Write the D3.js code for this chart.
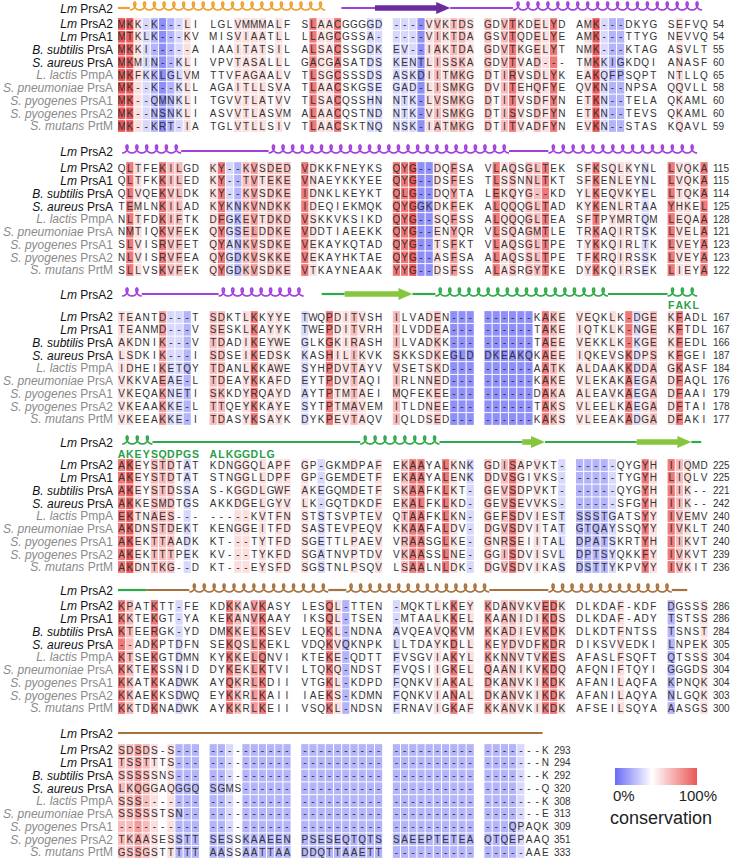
<!DOCTYPE html>
<html><head><meta charset="utf-8">
<script src="https://cdn.jsdelivr.net/npm/d3@7"></script>
<style>body{margin:0;background:#fff}svg{display:block}</style>
</head><body><svg id="chart" width="733" height="859"></svg>
<script>
// ---------------- DATA ----------------
const speciesItalic = ["Lm","Lm","B. subtilis","S. aureus","L. lactis","S. pneumoniae","S. pyogenes","S. pyogenes","S. mutans"];
const proteinNames  = ["PrsA2","PrsA1","PrsA","PrsA","PmpA","PrsA","PrsA1","PrsA2","PrtM"];
const ssLabelItalic = "Lm", ssLabelName = "PrsA2";

const block1 = [
"MKK-K---LI LGLVMMMALF SLAACGGGGD ----VVKTDS GDVTKDELYD AMK---DKYG SEFVQ",
"MTKLK---KV MISVIAATLL LLAGCGSSA- ----VIKTDA GSVTQDELYE AMK---TTYG NEVVQ",
"MKKI-----A IAAITATSIL ALSACSSGDK EV--IAKTDA GDVTKGELYT NMK---KTAG ASVLT",
"MKMIN--KLI VPVTASALLL GACGASATDS KENTLISSKA GDVTVAD--- TMKKIGKDQI ANASF",
"MKFKKLGLVM TTVFAGAALV TLSGCSSSDS ASKDIITMKG DTIRVSDLYK EAKQFPSQPT NTLLQ",
"MK--K--KLL AGAITLLSVA TLAACSKGSE GAD-LISMKG DVITEHQFYE QVKN--NPSA QQVLL",
"MK--QMNKLI TGVVTLATVV TLSACQSSHN NTK-LVSMKG DTITVSDFYN ETKN--TELA QKAML",
"MK--NSNKLI ASVVTLASVM ALAACQSTND NTK-VISMKG DTISVSDFYN ETKN--TEVS QKAML",
"MK--KRT-IA TGLVTLLSIV TLAACSKTNQ NSK-IATMKG DTITVADFYN EVKN--STAS KQAVL"];
const block2 = [
"QLTFEKILGD KY--KVSDED VDKKFNEYKS QYG--DQFSA VLAQSGLTEK SFKSQLKYNL LVQKA",
"QLTFKKILED KY--TVTEKE VNAEYKKYEE QYG--DSFES TLSSNNLTKT SFKENLEYNL LVQKA",
"QLVQEKVLDK KY--KVSDKE IDNKLKEYKT QLG--DQYTA LEKQYG--KD YLKEQVKYEL LTQKA",
"TEMLNKILAD KYKNKVNDKK IDEQIEKMQK QYGGKDKFEK ALQQQGLTAD KYKENLRTAA YHKEL",
"NLTFDKIFTK DFGKEVTDKD VSKKVKSIKD QYG--SQFSS ALQQQGLTEA SFTPYMRTQM LEQAA",
"NMTIQKVFEK QYGSELDDKE VDDTIAEEKK QYG--ENYQR VLSQAGMTLE TRKAQIRTSK LVELA",
"SLVISRVFET QYANKVSDKE VEKAYKQTAD QYG--TSFKT VLAQSGLTPE TYKKQIRLTK LVEYA",
"NLVISRVFEA QYGDKVSKKE VEKAYHKTAE QYG--ASFSA ALAQSSLTPE TFKRQIRSSK LVEYA",
"SLLVSKVFEK QYGDKVSDKE VTKAYNEAAK YYG--DSFSS ALASRGYTKE DYKKQIRSEK LIEYA"];
const block3 = [
"TEANTD---T SDKTLKKYYE TWQPDITVSH ILVADEN--- ------KAKE VEQKLK-DGE KFADL",
"TEANMD---V SESKLKAYYK TWEPDITVRH ILVDDEA--- ------TAKE IQTKLK-NGE KFTDL",
"AKDNIK---V TDADIKEYWE GLKGKIRASH ILVADKK--- ------TAEE VEKKLK-KGE KFEDL",
"LSDKIK---I SDSEIKEDSK KASHILIKVK SKKSDKEGLD DKEAKQKAEE IQKEVSKDPS KFGEI",
"IDHEIKETQY TDANLKKAWE SYHPDVTAYV VSETSKD--- ------AATK ALDAAKKDDA GKASF",
"VKKVAEAE-L TDEAYKKAFD EYTPDVTAQI IRLNNED--- ------KAKE VLEKAKAEGA DFAQL",
"VKEQAKNETI SKKDYRQAYD AYTPTMTAEI MQFEKEE--- ------DAKA ALEAVKAEGA DFAAI",
"VKEAAKKE-L TTQEYKKAYE SYTPTMAVEM ITLDNEE--- ------TAKS VLEELKAEGA DFTAI",
"VKEEAKKE-I TDASYKSAYK DYKPEVTAQV IQLDSED--- ------KAKS VLEEAKADGA DFAKI"];
const block4 = [
"AKEYSTDTAT KDNGGQLAPF GP-GKMDPAF EKAAYALKNK GDISAPVKT- -----QYGYH IIQMD",
"AKEYSTDTAT STNGGLLDPF GP-GEMDETF EKAAYALENK DDVSGIVKS- -----TYGYH LIQLV",
"AKEYSTDSSA S-KGGDLGWF AKEGQMDETF SKAAFKLKT- GEVSDPVKT- -----QYGYH IIK--",
"AKKESMDTGS AKKDGELGYV LK-GQTDKDF EKALFKLKD- GEVSEVVKS- -----SFGYH IIK--",
"EKTNAES--- -----KVTFN STSTSVPTEV QTAAFKLKN- GEFSDVIEST SSSTGATSYY IVEMV",
"AKDNSTDEKT KENGGEITFD SASTEVPEQV KKAAFALDV- DGVSDVITAT GTQAYSSQYY IVKLT",
"AKEKTTAADK KT---TYTFD SGETTLPAEV VRAASGLKE- GNRSEIITAL DPATSKRTYH IIKVT",
"AKEKTTTPEK KV---TYKFD SGATNVPTDV VKAASSLNE- GGISDVISVL DPTSYQKKFY IVKVT",
"AKDNTKG--D KT---EYSFD SGSTNLPSQV LSAALNLDK- DGVSDVIKAS DSTTYKPVYY IVKIT"];
const block5 = [
"KPATKTT-FE KDKKAVKASY LESQL-TTEN -MQKTLKKEY KDANVKVEDK DLKDAF-KDF DGSSS",
"KKTEKGT-YA KEKANVKAAY IKSQL-TSEN -MTAALKKEL KAANIDIKDS DLKDAF-ADY TSTSS",
"KTEERGK-YD DMKKELKSEV LEQKL-NDNA AVQEAVQKVM KKADIEVKDK DLKDTFNTSS TSNST",
"--ADKPTDFN SEKQSLKEKL VDQKVQKNPK LLTDAYKDLL KEYDVDFKDR DIKSVVEDKI LNPEK",
"KTSEKGTDMN KYKKELQNVI KTEKE-QDTT FVSGVIAKYL KKNNVTVKES AFASLFSQFT QTSSS",
"KKTEKSSNID DYKEKLKTVI LTQKQ-NDST FVQSIIGKEL QAANIKVKDQ AFQNIFTQYI GGGDS",
"KKATKKADWK AYQKRLKDII VTGKL-KDPD FQNKVIAKAL DKANVKIKDK AFANILAQFA KPNQK",
"KKAEKKSDWQ EYKKRLKAII IAEKS-KDMN FQNKVIANAL DKANVKIKDK AFANILAQYA NLGQK",
"KKTDKNADWK AYKKRLKEII VSQKL-NDSN FRNAVIGKAF KKANVKIKDK AFSEILSQYA AASGS"];
const block6 = [
"SDSDS-S--- ---------- ---------- ---------- -------K",
"TSSTTTS--- ---------- ---------- ---------- -------N",
"SSSSSNS--- ---------- ---------- ---------- -------K",
"LKQGGAQGGQ SGMS------ ---------- ---------- -------Q",
"SSS------- ---------- ---------- ---------- -------K",
"SSSSSTSN-- ---------- ---------- ---------- -------E",
"---------- ---------- ---------- ---------- ---QPAQK",
"TKAASESSTT SESSKAAEEN PSESEQTQTS SAEEPTETEA QTQEPAAQ",
"GSSGSTTTTT AASSAATTAA DDQTTAAETT ---------- -----AAE"];

// residue numbers at the end of each block line
const ends1 = [54,54,55,60,65,58,60,60,59];
const ends2 = [115,115,114,125,128,121,123,123,122];
const ends3 = [167,167,166,187,184,176,179,178,177];
const ends4 = [225,225,221,242,240,240,240,239,236];
const ends5 = [286,286,284,305,304,304,304,303,300];
const ends6 = [293,294,292,320,308,313,309,351,333];

// per-column conservation level (0 = 0%, 9 = 100%)
const cons1 = "9953212354 4445555454 4855844433 3331565665 6468546584 4593224444 45444";
const cons2 = "4854486644 5832675666 8544444444 8891154744 4856466844 4584555434 85548";
const cons3 = "5544473324 6644584554 3448556544 6444564111 1111114865 5544548356 58444";
const cons4 = "8954666434 4445545455 5434445445 4688448543 6468545443 2222344485 86544";
const cons5 = "8644844344 4486478444 4448524444 3444454845 7466545885 4444454444 24445";
const cons6 = "6676545222 2234222222 2222222222 2222222222 22223444";

// secondary structure of Lm PrsA2: [type, startColumn, endColumn, domain]
const ss1 = [["line",0,1.45,"sig"],["helix",1.45,22.95,"sig"],["line",24.9,29,"nt"],["strand",29,37,"nt"],["line",37,43.5,"nt"],["helix",43.5,64.2,"nt"]];
const ss2 = [["helix",0.5,7.7,"nt"],["line",7.7,17.2,"nt"],["helix",17.2,43,"nt"],["line",43,47.8,"nt"],["helix",47.8,63.6,"nt"]];
const ss3 = [["helix",0.5,2.9,"nt"],["line",2.9,11.1,"nt"],["helix",11.1,20.3,"nt"],["line",22.5,25.3,"ppi"],["strand",25.3,32.4,"ppi"],["line",32.4,35.2,"ppi"],["helix",35.2,53.9,"ppi"],["line",53.9,60,"ppi"],["helix",60,63.6,"ppi"]];
const ss4 = [["helix",0.5,4.2,"ppi"],["line",4.2,27.2,"ppi"],["helix",27.2,35.7,"ppi"],["line",35.7,44.6,"ppi"],["strand",44.6,47.4,"ppi"],["line",47.4,57.4,"ppi"],["strand",57.4,62.9,"ppi"],["line",62.9,64.1,"ppi"]];
const ss5 = [["line",0,3.5,"ppi"],["line",3.5,8.7,"ct"],["helix",8.7,23.3,"ct"],["line",23.3,25.5,"ct"],["helix",25.5,40.6,"ct"],["line",40.6,47.8,"ct"],["helix",47.8,60.5,"ct"],["line",60.5,62.4,"ct"]];
const ss6 = [["line",0,47.1,"ct"]];

// extra residue annotations under the structure line: [text, startColumn]
const ann3 = [["FAKL",60]];
const ann4 = [["AKEYSQDPGS",0],["ALKGGDLG",10]];

const legendTicks = ["0%","100%"];
const legendTitle = "conservation";

// ---------------- STYLE / LAYOUT ----------------
const X0 = 118, GROUP_PITCH = 91.6, CELL_W = 8.2, ROW_P = 12.75;
const ssY   = [8, 151, 294, 442, 590, 733];
const rowY0 = [24, 168, 317, 465, 606, 750];
const annY  = [0, 0, 305, 454, 0, 0];
const LABEL_X = 113, END_X = 713;
const domainColor = {sig:"#f0a030", nt:"#a33fdc", ppi:"#2faa4a", ct:"#a8723e"};
const strandColor = {nt:"#6a2c9c", ppi:"#86c53e"};
const FONT = "'Liberation Sans', Arial, Helvetica, sans-serif";

const svg = d3.select("#chart");
svg.append("rect").attr("width",733).attr("height",859).attr("fill","#fff");

const groupX = d3.scaleLinear().domain([0,1]).range([X0, X0+GROUP_PITCH]);
const cellX  = d3.scaleLinear().domain([0,1]).range([0, CELL_W]);
function colX(c){ const g = Math.floor(c/10 + 1e-9); return groupX(g) + cellX(c - g*10); }
const consScale = d3.scaleLinear().domain([0,9]).range([0,100]);
const color = d3.scaleLinear().domain([0,45,100]).range(["#6a6af6","#ffffff","#ec5656"]);

function label(g, y, ital, name, fill){
  const t = g.append("text").attr("x",LABEL_X).attr("y",y).attr("text-anchor","end")
    .attr("font-family",FONT).attr("font-size",12).attr("fill",fill);
  t.append("tspan").attr("font-style","italic").text(ital);
  t.append("tspan").text(" "+name);
}

function coilPath(x1,x2,yb){
  const L = x2-x1, n = Math.max(1, Math.round(L/9.8)), P = L/n;
  const r = P/(2*Math.PI), d = 3.0, h = 8;
  const pts = [];
  const steps = n*36;
  for(let i=0;i<=steps;i++){
    const phi = i/36*2*Math.PI;
    pts.push([x1 + r*phi + d*Math.sin(phi), yb - h*(1-Math.cos(phi))/2]);
  }
  return d3.line().curve(d3.curveCatmullRom)(pts);
}

const blocks = [block1,block2,block3,block4,block5,block6];
const consAll = [cons1,cons2,cons3,cons4,cons5,cons6];
const endsAll = [ends1,ends2,ends3,ends4,ends5,ends6];
const ssAll = [ss1,ss2,ss3,ss4,ss5,ss6];
const annAll = [null,null,ann3,ann4,null,null];

blocks.forEach((blk,b)=>{
  const g = svg.append("g");
  const yRow = d3.scaleLinear().domain([0,1]).range([rowY0[b], rowY0[b]+ROW_P]);
  const cons = consAll[b].replace(/ /g,"").split("").map(v=>consScale(+v));

  // secondary structure
  label(g, ssY[b]+4.5, ssLabelItalic, ssLabelName, "#111");
  const sy = ssY[b];
  ssAll[b].forEach(([type,s,e,dom])=>{
    const x1 = colX(s), x2 = colX(e);
    if(type==="line"){
      g.append("line").attr("x1",x1).attr("x2",x2).attr("y1",sy).attr("y2",sy)
        .attr("stroke",domainColor[dom]).attr("stroke-width",2.2);
    } else if(type==="helix"){
      g.append("path").attr("d",coilPath(x1,x2,sy+2)).attr("fill","none")
        .attr("stroke",domainColor[dom]).attr("stroke-width",1.7);
    } else {
      const hl = Math.min(14, (x2-x1)*0.75), bh = 5.5, hh = 12;
      const pts = [[x1,sy-bh/2],[x2-hl,sy-bh/2],[x2-hl,sy-hh/2],[x2,sy],[x2-hl,sy+hh/2],[x2-hl,sy+bh/2],[x1,sy+bh/2]];
      g.append("path").attr("d",d3.line()(pts)+"Z").attr("fill",strandColor[dom]);
    }
  });
  if(annAll[b]){
    annAll[b].forEach(([txt,start])=>{
      txt.split("").forEach((ch,i)=>{
        g.append("text").attr("x",colX(start+i)+CELL_W/2-0.5).attr("y",annY[b]+4)
          .attr("text-anchor","middle").attr("font-family",FONT).attr("font-size",10.5)
          .attr("font-weight","bold").attr("fill","#2a9e48").text(ch);
      });
    });
  }

  // alignment rows
  blk.forEach((s,r)=>{
    const seq = s.replace(/ /g,"");
    const yc = yRow(r);
    label(g, yc+4.3, speciesItalic[r], proteinNames[r], r<4 ? "#111" : "#8a8a8a");
    const row = g.append("g");
    seq.split("").forEach((ch,c)=>{
      const x = colX(c);
      row.append("rect").attr("x",x).attr("y",yc-ROW_P/2+0.5).attr("width",CELL_W-1).attr("height",ROW_P-1)
        .attr("fill",color(cons[c]));
      row.append("text").attr("x",x+(CELL_W-1)/2).attr("y",yc+3.6).attr("text-anchor","middle")
        .attr("font-family",FONT).attr("font-size",10).attr("fill","#333").text(ch);
    });
    const lastX = colX(seq.length-1) + CELL_W + 4;
    g.append("text").attr("x",b===5 ? lastX : END_X).attr("y",yc+3.6)
      .attr("font-family",FONT).attr("font-size",10).attr("fill","#333").text(endsAll[b][r]);
  });
});

// legend
const defs = svg.append("defs");
const grad = defs.append("linearGradient").attr("id","consGrad");
[[0,color(0)],[0.45,color(45)],[1,color(100)]].forEach(([o,c])=>grad.append("stop").attr("offset",o).attr("stop-color",c));
svg.append("rect").attr("x",615).attr("y",768).attr("width",82).attr("height",17).attr("fill","url(#consGrad)");
svg.append("text").attr("x",613).attr("y",801).attr("font-family",FONT).attr("font-size",15).attr("fill","#222").text(legendTicks[0]);
svg.append("text").attr("x",717).attr("y",801).attr("text-anchor","end").attr("font-family",FONT).attr("font-size",15).attr("fill","#222").text(legendTicks[1]);
svg.append("text").attr("x",610).attr("y",824).attr("font-family",FONT).attr("font-size",18).attr("fill","#222").text(legendTitle);
</script>
</body></html>
